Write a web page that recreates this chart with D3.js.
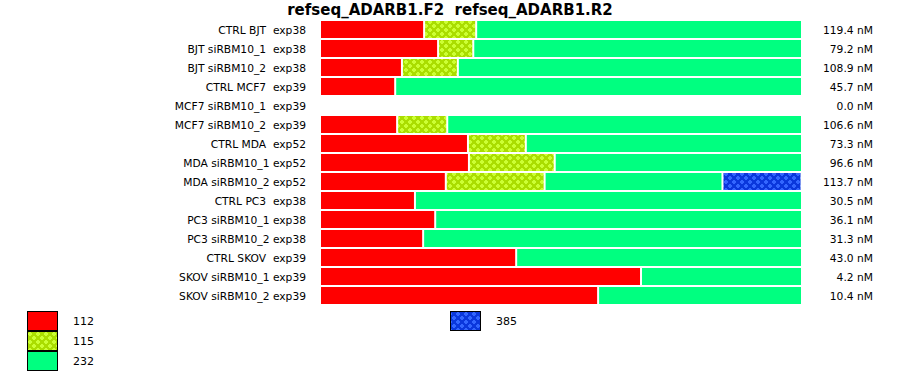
<!DOCTYPE html>
<html><head><meta charset="utf-8">
<script src="https://cdn.jsdelivr.net/npm/d3@7"></script>
<style>body{margin:0;background:#fff}text{font-family:"DejaVu Sans",Verdana,sans-serif;white-space:pre}</style>
</head><body>
<svg id="chart" width="900" height="375"></svg>
<script>
const title = "refseq_ADARB1.F2  refseq_ADARB1.R2";
const categories = ["CTRL BJT  exp38","BJT siRBM10_1  exp38","BJT siRBM10_2  exp38","CTRL MCF7  exp39","MCF7 siRBM10_1  exp39","MCF7 siRBM10_2  exp39","CTRL MDA  exp52","MDA siRBM10_1 exp52","MDA siRBM10_2 exp52","CTRL PC3  exp38","PC3 siRBM10_1 exp38","PC3 siRBM10_2 exp38","CTRL SKOV  exp39","SKOV siRBM10_1 exp39","SKOV siRBM10_2 exp39"];
const totals = [119.4,79.2,108.9,45.7,0.0,106.6,73.3,96.6,113.7,30.5,36.1,31.3,43.0,4.2,10.4];
const seriesKeys = ["112","115","232","385"];
const s112 = [21.6,24.5,17.0,15.6,0,16.0,30.7,30.9,26.1,19.7,23.9,21.4,40.7,66.6,57.7];
const s115 = [10.8,7.3,11.6,0,0,10.4,12.0,17.8,20.5,0,0,0,0,0,0];
const s232 = [67.6,68.2,71.4,84.4,0,73.6,57.3,51.3,36.9,80.3,76.1,78.6,59.3,33.4,42.3];
const s385 = [0,0,0,0,0,0,0,0,16.4,0,0,0,0,0,0];

const rows = categories.map((c,i)=>({cat:c, total:totals[i], "112":s112[i], "115":s115[i], "232":s232[i], "385":s385[i]}));
const svg = d3.select("#chart");
const defs = svg.append("defs");
function pat(id, base, dot){
  const p = defs.append("pattern").attr("id",id).attr("patternUnits","userSpaceOnUse").attr("width",8).attr("height",8);
  p.append("rect").attr("width",8).attr("height",8).attr("fill",base);
  [[2,2],[6,6]].forEach(([cx,cy])=>{
    p.append("rect").attr("x",cx-1).attr("y",cy-2).attr("width",2).attr("height",4).attr("fill",dot);
    p.append("rect").attr("x",cx-2).attr("y",cy-1).attr("width",4).attr("height",2).attr("fill",dot);
  });
}
pat("pY","#aadd00","#ccff33");
pat("pB","#0a37dc","#3366ff");
const fills = {"112":"#ff0000","115":"url(#pY)","232":"#00ff80","385":"url(#pB)"};

const x = d3.scaleLinear().domain([0,100]).range([321,803]);
const y = d3.scaleBand().domain(d3.range(categories.length)).range([20,305]);
const stack = d3.stack().keys(seriesKeys)(rows);

svg.append("text").attr("x",450).attr("y",15).attr("text-anchor","middle")
  .attr("font-size",15).attr("font-weight","bold").text(title);

stack.forEach(layer=>{
  svg.append("g").selectAll("rect").data(layer.map((d,i)=>({d,i})).filter(o=>o.d[1]-o.d[0]>0))
    .join("rect")
    .attr("x",o=>x(o.d[0]))
    .attr("y",o=>y(o.i)+1)
    .attr("width",o=>Math.max(0,x(o.d[1])-x(o.d[0])-2))
    .attr("height",y.bandwidth()-2)
    .attr("fill",fills[layer.key]);
});

svg.append("g").selectAll("text").data(categories).join("text")
  .attr("x",306).attr("y",(d,i)=>y(i)+y.bandwidth()/2+4)
  .attr("text-anchor","end").attr("font-size",10.7).text(d=>d);

svg.append("g").selectAll("text").data(totals).join("text")
  .attr("x",873).attr("y",(d,i)=>y(i)+y.bandwidth()/2+4)
  .attr("text-anchor","end").attr("font-size",10.7).text(d=>d.toFixed(1)+" nM");

const legendPos = [[27,311],[27,331],[27,351],[450,311]];
seriesKeys.forEach((k,i)=>{
  const [lx,ly]=legendPos[i];
  svg.append("rect").attr("x",lx+0.5).attr("y",ly+0.5).attr("width",30).attr("height",19)
    .attr("fill",fills[k]).attr("stroke","#000").attr("stroke-width",1);
  svg.append("text").attr("x",lx+46).attr("y",ly+14).attr("font-size",11).text(k);
});
</script>
</body></html>
